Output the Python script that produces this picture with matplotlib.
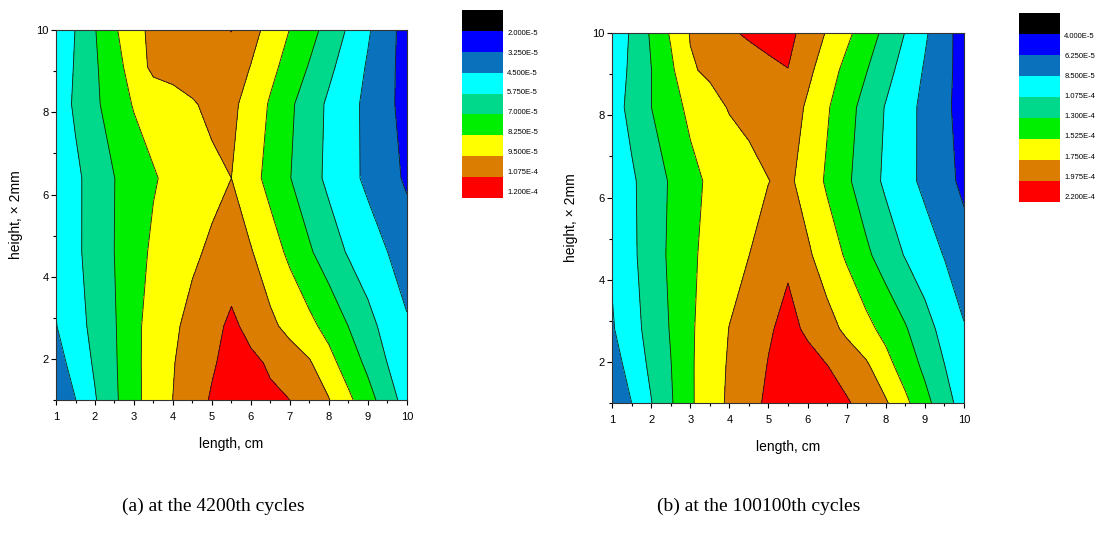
import numpy as np
import matplotlib.pyplot as plt
from matplotlib.ticker import MultipleLocator

plt.rcParams['font.family'] = ['Liberation Sans', 'DejaVu Sans']

# grid nodes: length (cm) and height (x 2mm)
x_len = [1.0, 1.5, 2.0, 2.5, 3.0, 3.5, 4.0, 4.5, 5.0, 5.5,
         6.0, 6.5, 7.0, 7.5, 8.0, 8.5, 9.0, 9.5, 10.0]
y_hgt = [1.0, 1.9, 2.8, 4.6, 6.4, 8.2, 9.1, 10.0]

# (a) 4200th cycles, values in units of 1e-5, one row per height
z_a = [
    [3.38, 4.48, 5.66, 6.78, 7.91, 8.78, 9.51, 10.18, 10.88, 11.25, 11.13, 10.94, 10.75, 10.15, 9.56, 8.51, 7.46, 6.36, 5.23],
    [4.00, 4.96, 5.91, 6.85, 7.95, 8.75, 9.44, 10.03, 10.61, 11.19, 11.00, 10.61, 10.11, 9.63, 8.66, 7.68, 6.73, 5.74, 4.88],
    [4.46, 5.28, 6.09, 6.90, 7.96, 8.70, 9.30, 9.85, 10.36, 11.00, 10.39, 9.75, 9.15, 8.56, 7.84, 6.99, 6.13, 5.35, 4.63],
    [4.75, 5.51, 6.26, 7.01, 7.81, 8.44, 8.88, 9.30, 9.70, 10.06, 9.58, 8.81, 8.00, 7.15, 6.36, 5.64, 5.08, 4.51, 3.95],
    [4.78, 5.51, 6.25, 6.99, 7.58, 8.16, 8.53, 8.85, 9.18, 9.50, 8.69, 7.86, 7.04, 6.23, 5.49, 4.86, 4.26, 3.70, 3.06],
    [5.06, 5.93, 6.78, 7.61, 8.34, 8.68, 9.03, 9.38, 9.81, 9.75, 9.06, 8.11, 7.21, 6.35, 5.55, 4.89, 4.21, 3.51, 2.83],
    [4.89, 5.86, 6.85, 7.76, 8.81, 9.80, 9.92, 10.13, 10.19, 10.15, 9.46, 8.60, 7.75, 6.91, 6.01, 5.19, 4.38, 3.58, 2.78],
    [4.75, 5.78, 6.95, 8.04, 9.29, 9.66, 9.86, 10.05, 10.25, 10.78, 9.91, 9.09, 8.22, 7.43, 6.55, 5.60, 4.64, 3.69, 2.75],
]

# (b) 100100th cycles, values in units of 1e-5
z_b = [
    [6.48, 8.49, 10.66, 12.75, 14.94, 16.47, 17.86, 19.12, 20.09, 20.88, 20.65, 20.38, 19.98, 18.94, 17.75, 15.75, 13.68, 11.70, 9.72],
    [7.44, 9.33, 11.18, 12.93, 14.96, 16.42, 17.73, 18.78, 19.84, 20.76, 20.43, 19.80, 18.81, 17.84, 16.04, 14.22, 12.55, 10.80, 9.18],
    [8.28, 9.92, 11.54, 13.14, 14.94, 16.29, 17.55, 18.54, 19.53, 20.31, 19.44, 18.27, 17.07, 15.88, 14.58, 13.20, 11.58, 10.05, 8.64],
    [8.77, 10.32, 11.85, 13.38, 14.87, 15.86, 16.67, 17.48, 18.45, 19.41, 17.84, 16.42, 14.98, 13.41, 11.97, 10.62, 9.51, 8.41, 7.31],
    [9.02, 10.41, 11.83, 13.23, 14.64, 15.59, 16.22, 16.85, 17.46, 17.95, 16.56, 14.94, 13.38, 11.81, 10.37, 9.15, 8.03, 7.04, 5.69],
    [9.76, 11.36, 12.98, 14.44, 15.72, 16.78, 17.64, 18.04, 18.45, 18.85, 17.16, 15.48, 13.83, 12.19, 10.62, 9.27, 7.96, 6.70, 5.44],
    [9.40, 11.18, 12.96, 14.78, 17.28, 17.84, 18.29, 18.74, 19.35, 19.71, 18.06, 16.29, 14.62, 13.11, 11.49, 9.87, 8.30, 6.86, 5.42],
    [8.95, 11.07, 13.27, 15.48, 17.61, 18.49, 19.48, 20.02, 20.31, 20.40, 18.85, 17.32, 15.75, 14.10, 12.42, 10.68, 8.79, 7.02, 5.26],
]

levels_a = [2.0, 3.25, 4.5, 5.75, 7.0, 8.25, 9.5, 10.75, 12.0]
levels_b = [4.0, 6.25, 8.5, 10.75, 13.0, 15.25, 17.5, 19.75, 22.0]
labels_a = ['2.000E-5', '3.250E-5', '4.500E-5', '5.750E-5', '7.000E-5',
            '8.250E-5', '9.500E-5', '1.075E-4', '1.200E-4']
labels_b = ['4.000E-5', '6.250E-5', '8.500E-5', '1.075E-4', '1.300E-4',
            '1.525E-4', '1.750E-4', '1.975E-4', '2.200E-4']

band_colors = ['#000000', '#0000FF', '#0A72BC', '#00FFFF', '#00D98C',
               '#00EE00', '#FFFF00', '#DB7D00', '#FF0000']

captions = ['(a) at the 4200th cycles', '(b) at the 100100th cycles']


def draw_panel(ax, z, levels, ylab_x):
    ax.contourf(x_len, y_hgt, z, levels=levels, colors=band_colors[1:])
    ax.contour(x_len, y_hgt, z, levels=levels[1:-1], colors='#1a1a1a', linewidths=0.6)
    ax.set_xlim(1, 10)
    ax.set_ylim(1, 10)
    ax.xaxis.set_major_locator(MultipleLocator(1))
    ax.xaxis.set_minor_locator(MultipleLocator(0.5))
    ax.yaxis.set_major_locator(MultipleLocator(2))
    ax.yaxis.set_minor_locator(MultipleLocator(1))
    ax.tick_params(which='major', direction='out', length=3.5, width=0.8, labelsize=8)
    ax.tick_params(which='minor', direction='out', length=2, width=0.8)
    ax.tick_params(axis='x', which='major', pad=5)
    ax.tick_params(axis='y', which='major', pad=2)
    ax.set_xlabel('length, cm', fontsize=10, va='center')
    ax.set_ylabel('height, \u00d7 2mm', fontsize=10, va='center')
    ax.xaxis.set_label_coords(0.5, -0.119)
    ax.yaxis.set_label_coords(ylab_x, 0.5)
    for s in ax.spines.values():
        s.set_linewidth(0.8)
        s.set_color('#333333')


def draw_key(fig, rect, labels, lab_top, lab_bot):
    kax = fig.add_axes(rect)
    for i, c in enumerate(band_colors):
        kax.bar(0, 1, bottom=i, width=1, color=c, align='edge')
    kax.set_xlim(0, 1)
    kax.set_ylim(9, 0)
    kax.axis('off')
    for lab, yy in zip(labels, np.linspace(lab_top, lab_bot, len(labels))):
        kax.text(1.1, yy, lab, fontsize=5.5, va='center', ha='left')


fig = plt.figure(figsize=(11.03, 5.36), dpi=100)

ax_a = fig.add_axes([0.0508, 0.2537, 0.318, 0.690])
draw_panel(ax_a, z_a, levels_a, -0.114)
draw_key(fig, [0.4189, 0.6306, 0.0372, 0.3507], labels_a, 1.11, 8.74)

ax_b = fig.add_axes([0.5549, 0.2481, 0.319, 0.690])
draw_panel(ax_b, z_b, levels_b, -0.116)
draw_key(fig, [0.9239, 0.6231, 0.0372, 0.3526], labels_b, 1.12, 8.77)

fig.text(0.1106, 0.056, captions[0], fontsize=14, family='Liberation Serif', va='center')
fig.text(0.5957, 0.056, captions[1], fontsize=14, family='Liberation Serif', va='center')

fig.savefig('out.png', dpi=100)
